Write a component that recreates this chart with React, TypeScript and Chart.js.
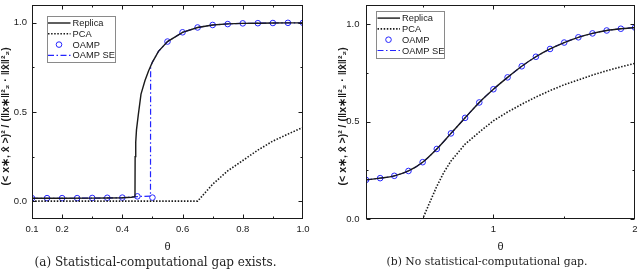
import React, { useEffect, useRef } from 'react';
import { Chart, registerables } from 'chart.js';

Chart.register(...registerables);

// ---------- Panel (a) data ----------
const aReplicaTheta = [0.1, 0.2, 0.3, 0.35, 0.4, 0.43, 0.442, 0.4425, 0.4445, 0.447, 0.453, 0.462, 0.475, 0.487, 0.5, 0.52, 0.55, 0.6, 0.65, 0.7, 0.75, 0.8, 0.85, 0.9, 0.95, 1.0];
const aReplicaValues = [0.016, 0.016, 0.017, 0.018, 0.019, 0.022, 0.025, 0.25, 0.33, 0.4, 0.484, 0.6, 0.675, 0.73, 0.78, 0.84, 0.895, 0.947, 0.974, 0.988, 0.994, 0.997, 0.998, 0.999, 1.0, 1.0];
const aPcaTheta = [0.1, 0.65, 0.7, 0.75, 0.8, 0.85, 0.9, 0.95, 1.0];
const aPcaValues = [0, 0, 0.095, 0.17, 0.228, 0.286, 0.337, 0.376, 0.414];
const aOampTheta = [0.1, 0.15, 0.2, 0.25, 0.3, 0.35, 0.4, 0.45, 0.5, 0.55, 0.6, 0.65, 0.7, 0.75, 0.8, 0.85, 0.9, 0.95, 1.0];
const aOampValues = [0.017, 0.017, 0.017, 0.017, 0.018, 0.019, 0.02, 0.027, 0.02, 0.895, 0.947, 0.974, 0.988, 0.993, 0.997, 0.998, 0.999, 1.0, 1.0];
const aSeTheta = [0.1, 0.2, 0.3, 0.4, 0.45, 0.4935, 0.494, 0.5, 0.52, 0.55, 0.6, 0.65, 0.7, 0.75, 0.8, 0.85, 0.9, 0.95, 1.0];
const aSeValues = [0.016, 0.016, 0.017, 0.019, 0.026, 0.028, 0.755, 0.78, 0.84, 0.895, 0.947, 0.974, 0.988, 0.994, 0.997, 0.998, 0.999, 1.0, 1.0];
const aXTicks = [0.1, 0.2, 0.3, 0.4, 0.5, 0.6, 0.7, 0.8, 0.9, 1.0];
const aXLabels = ['0.1', '0.2', '', '0.4', '', '0.6', '', '0.8', '', '1.0'];
const aYTicks = [0, 0.25, 0.5, 0.75, 1.0];
const aYLabels = ['0.0', '', '0.5', '', '1.0'];

// ---------- Panel (b) data ----------
const bTheta = [0.1, 0.2, 0.3, 0.4, 0.5, 0.6, 0.7, 0.8, 0.9, 1.0, 1.1, 1.2, 1.3, 1.4, 1.5, 1.6, 1.7, 1.8, 1.9, 2.0];
const bReplicaValues = [0.201, 0.21, 0.222, 0.247, 0.292, 0.36, 0.44, 0.52, 0.599, 0.667, 0.728, 0.785, 0.834, 0.874, 0.907, 0.934, 0.954, 0.969, 0.978, 0.984];
const bOampValues = [0.201, 0.21, 0.222, 0.247, 0.292, 0.36, 0.44, 0.52, 0.599, 0.667, 0.728, 0.785, 0.834, 0.874, 0.907, 0.934, 0.954, 0.969, 0.978, 0.984];
const bSeValues = [0.201, 0.21, 0.222, 0.247, 0.292, 0.36, 0.44, 0.52, 0.599, 0.667, 0.728, 0.785, 0.834, 0.874, 0.907, 0.934, 0.954, 0.969, 0.978, 0.984];
const bPcaTheta = [0.1, 0.5, 0.55, 0.6, 0.65, 0.7, 0.8, 0.9, 1.0, 1.1, 1.2, 1.3, 1.4, 1.5, 1.6, 1.7, 1.8, 1.9, 2.0];
const bPcaValues = [0, 0, 0.085, 0.168, 0.24, 0.298, 0.385, 0.447, 0.505, 0.55, 0.59, 0.627, 0.66, 0.69, 0.715, 0.74, 0.762, 0.782, 0.8];
const bXTicks = [0.5, 1, 1.5, 2];
const bXLabels = ['', '1', '', '2'];
const bYTicks = [0, 0.25, 0.5, 0.75, 1.0];
const bYLabels = ['0.0', '', '0.5', '', '1.0'];

const seriesNames = ['Replica', 'PCA', 'OAMP', 'OAMP SE'];
const captions = ['(a) Statistical-computational gap exists.', '(b) No statistical-computational gap.'];
const yTitle = '(< x\u2217, x\u0302 >)\u00b2 / (\u2016x\u2217\u2016\u00b2\u2082 \u00b7 \u2016x\u0302\u2016\u00b2\u2082)   ';

const BLUE = '#2424ff';
const INK = '#1a1a1a';
const SANS = '"Liberation Sans", Arial, sans-serif';

const pts = (xs: number[], ys: number[]) => xs.map((x, i) => ({ x, y: ys[i] }));

const framePlugin = {
  id: 'frame',
  afterDatasetsDraw(chart: any, _args: any, opts: any) {
    const { ctx, chartArea: a, scales } = chart;
    ctx.save();
    ctx.strokeStyle = INK;
    ctx.lineWidth = 1;
    const L = Math.round(a.left) + 0.5, R = Math.round(a.right) - 0.5;
    const T = Math.round(a.top) + 0.5, B = Math.round(a.bottom) - 0.5;
    ctx.strokeRect(L, T, R - L, B - T);
    ctx.beginPath();
    opts.xTicks.forEach((v: number, i: number) => {
      const len = opts.xLabels[i] ? 4 : 2;
      const p = Math.round(scales.x.getPixelForValue(v)) + 0.5;
      if (p <= L + 1 || p >= R - 1) return;
      ctx.moveTo(p, B); ctx.lineTo(p, B - len);
      ctx.moveTo(p, T); ctx.lineTo(p, T + len);
    });
    opts.yTicks.forEach((v: number, i: number) => {
      const len = opts.yLabels[i] ? 4 : 2;
      const p = Math.round(scales.y.getPixelForValue(v)) + 0.5;
      ctx.moveTo(L, p); ctx.lineTo(L + len, p);
      ctx.moveTo(R, p); ctx.lineTo(R - len, p);
    });
    ctx.stroke();

    // legend
    const lg = opts.legend;
    const bx = a.left + lg.dx, by = a.top + lg.dy;
    ctx.fillStyle = '#ffffff';
    ctx.fillRect(bx, by, lg.w, lg.h);
    ctx.strokeStyle = '#8a8a8a';
    ctx.lineWidth = 1;
    ctx.strokeRect(Math.round(bx) + 0.5, Math.round(by) + 0.5, lg.w, lg.h);
    const styles = [
      { kind: 'line', color: INK, dash: [], width: 1.4 },
      { kind: 'line', color: INK, dash: [1.5, 1.6], width: 1.6 },
      { kind: 'circle', color: BLUE },
      { kind: 'line', color: BLUE, dash: [6, 2.5, 1.5, 2.5], width: 1.2 },
    ];
    ctx.font = '9.3px ' + SANS;
    ctx.textBaseline = 'middle';
    ctx.textAlign = 'left';
    seriesNames.forEach((name, i) => {
      const y = by + 6.8 + i * 10.8;
      const s = styles[i];
      ctx.save();
      ctx.strokeStyle = s.color;
      if (s.kind === 'line') {
        ctx.lineWidth = s.width;
        ctx.setLineDash(s.dash);
        ctx.beginPath();
        ctx.moveTo(bx + 1.5, y);
        ctx.lineTo(bx + 24, y);
        ctx.stroke();
      } else {
        ctx.lineWidth = 1;
        ctx.beginPath();
        ctx.arc(bx + 12.5, y, 2.8, 0, Math.PI * 2);
        ctx.stroke();
      }
      ctx.restore();
      ctx.fillStyle = INK;
      ctx.fillText(name, bx + 26, y + 0.5);
    });
    ctx.restore();
  },
};

function buildConfig(p: any): any {
  const lineDs = (label: string, data: any[], color: string, width: number, dash: number[], smooth: boolean) => ({
    label, data, showLine: true, borderColor: color, borderWidth: width, borderDash: dash,
    pointRadius: 0, pointHoverRadius: 0, fill: false, tension: 0,
    cubicInterpolationMode: smooth ? 'monotone' : 'default',
  });
  return {
    type: 'scatter',
    data: {
      datasets: [
        lineDs('PCA', p.pca, INK, 1.6, [1.5, 1.6], false),
        lineDs('Replica', p.replica, INK, 1.4, [], p.smooth),
        lineDs('OAMP SE', p.se, BLUE, 1.2, [6, 2.5, 1.5, 2.5], p.smooth),
        {
          label: 'OAMP', data: p.oamp, showLine: false, pointStyle: 'circle', pointRadius: 2.8,
          pointBorderWidth: 1, pointBorderColor: BLUE, pointBackgroundColor: 'rgba(0,0,0,0)',
          borderColor: BLUE, backgroundColor: 'rgba(0,0,0,0)',
        },
      ],
    },
    options: {
      responsive: false,
      animation: false,
      devicePixelRatio: 1,
      events: [],
      layout: { padding: { left: 0, right: p.padRight, top: p.padTop, bottom: 0 } },
      plugins: {
        legend: { display: false },
        tooltip: { enabled: false },
        frame: { xTicks: p.xTicks, xLabels: p.xLabels, yTicks: p.yTicks, yLabels: p.yLabels, legend: p.legend },
      },
      scales: {
        x: {
          type: 'linear', min: p.xMin, max: p.xMax,
          afterBuildTicks: (s: any) => { s.ticks = p.xTicks.map((v: number) => ({ value: v })); },
          afterFit: (s: any) => { s.height = 55; s.paddingLeft = 0; s.paddingRight = 0; },
          grid: { display: false, drawTicks: false },
          border: { display: false },
          ticks: {
            autoSkip: false, maxRotation: 0, padding: 4.3, color: INK,
            font: { size: 9.5, family: SANS },
            callback: (_v: any, i: number) => p.xLabels[i],
          },
          title: {
            display: true, text: '\u03b8', color: INK, padding: { top: 0, bottom: 20.5 },
            font: { size: 11, family: SANS },
          },
        },
        y: {
          type: 'linear', min: p.yMin, max: p.yMax,
          afterBuildTicks: (s: any) => { s.ticks = p.yTicks.map((v: number) => ({ value: v })); },
          afterFit: (s: any) => { s.width = p.yWidth; s.paddingTop = 0; s.paddingBottom = 0; },
          grid: { display: false, drawTicks: false },
          border: { display: false },
          ticks: {
            autoSkip: false, padding: p.yLabelPad, color: INK,
            font: { size: 9.5, family: SANS },
            callback: (_v: any, i: number) => p.yLabels[i],
          },
          title: {
            display: true, text: yTitle, color: INK, padding: { top: p.yTitlePad, bottom: 0 },
            font: { size: 10.5, weight: 'bold', family: SANS },
          },
        },
      },
    },
    plugins: [framePlugin],
  };
}

const panelA = {
  replica: pts(aReplicaTheta, aReplicaValues),
  pca: pts(aPcaTheta, aPcaValues),
  oamp: pts(aOampTheta, aOampValues),
  se: pts(aSeTheta, aSeValues),
  xMin: 0.1, xMax: 1.0, yMin: -0.1, yMax: 1.1,
  xTicks: aXTicks, xLabels: aXLabels, yTicks: aYTicks, yLabels: aYLabels,
  padRight: 17, padTop: 1.5, yWidth: 32, yLabelPad: 5, yTitlePad: 0.3, smooth: false,
  legend: { dx: 14.5, dy: 11.2, w: 68, h: 46 },
};

const panelB = {
  replica: pts(bTheta, bReplicaValues),
  pca: pts(bPcaTheta, bPcaValues),
  oamp: pts(bTheta, bOampValues),
  se: pts(bTheta, bSeValues),
  xMin: 0.1, xMax: 2.0, yMin: 0, yMax: 1.1,
  xTicks: bXTicks, xLabels: bXLabels, yTicks: bYTicks, yLabels: bYLabels,
  padRight: 3.5, padTop: 1, yWidth: 46, yLabelPad: 6.5, yTitlePad: 17, smooth: true,
  legend: { dx: 10, dy: 6.3, w: 68, h: 47 },
};

function Panel({ cfg, left, caption, capX, capSize }: { cfg: any; left: number; caption: string; capX: number; capSize: number }) {
  const ref = useRef<HTMLCanvasElement | null>(null);
  useEffect(() => {
    if (!ref.current) return;
    const chart = new Chart(ref.current, buildConfig(cfg));
    return () => chart.destroy();
  }, [cfg]);
  return (
    <div style={{ position: 'absolute', left, top: 0, width: 320, height: 274 }}>
      <canvas ref={ref} width={320} height={274} style={{ width: 320, height: 274, display: 'block' }} />
      <div
        style={{
          position: 'absolute', left: capX - 160, top: 255, width: 320, textAlign: 'center',
          fontFamily: '"DejaVu Serif", "Liberation Serif", serif', fontSize: capSize, lineHeight: '14px', color: '#222',
          whiteSpace: 'nowrap',
        }}
      >
        {caption}
      </div>
    </div>
  );
}

export default function App() {
  return (
    <div style={{ position: 'absolute', left: 0, top: 0, width: 640, height: 274, background: '#fff', overflow: 'hidden' }}>
      <Panel cfg={panelA} left={0} caption={captions[0]} capX={155.5} capSize={12} />
      <Panel cfg={panelB} left={320} caption={captions[1]} capX={167} capSize={10.8} />
    </div>
  );
}
